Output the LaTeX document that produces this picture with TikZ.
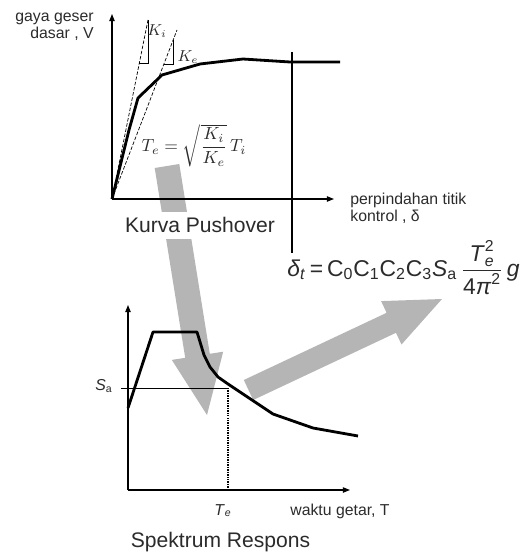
\documentclass[tikz,border=0pt]{standalone}
\usepackage{amsmath}
\usepackage{fontspec}
\setmainfont{Liberation Sans}
\usetikzlibrary{arrows.meta,positioning}
\definecolor{arrowfill}{HTML}{B5B5B5}
\definecolor{labeltext}{HTML}{2B2B2B}
\newcommand{\scr}[1]{\mbox{\fontsize{9}{9}\selectfont #1}}

\begin{document}
\begin{tikzpicture}[
  x=0.02cm, y=-0.02cm,
  every node/.style={inner sep=0pt, text=labeltext},
  axis/.style={line width=0.7pt, -{Triangle[length=4pt,width=3pt]}},
  guide/.style={line width=0.7pt},
  curve/.style={line width=1.6pt, line join=round},
  thinline/.style={line width=0.4pt},
  dashline/.style={line width=0.4pt, dash pattern=on 2pt off 1pt},
  dotline/.style={line width=0.9pt, dash pattern=on 0.8pt off 0.6pt},
  bigarrow/.style={fill=arrowfill, draw=none},
  small/.style={font=\fontsize{9}{9.6}\selectfont},
  title/.style={font=\fontsize{12}{14}\selectfont},
]
\useasboundingbox (0,0) rectangle (521,554);

% Gray arrows, behind everything
\fill[bigarrow] (154.7,168) -- (179.3,164) -- (209.8,353.8) -- (223.2,351.7)
  -- (207,415) -- (171.8,359.9) -- (185.2,357.8) -- cycle;
\fill[bigarrow] (243.8,380) -- (386.6,312.8) -- (381.1,301.1) -- (442,299)
  -- (401.5,344.5) -- (396,332.8) -- (253.2,400) -- cycle;

% Pushover graph
\coordinate (O1) at (112,199);
\coordinate (Vtop) at (112,14);
\coordinate (Dend) at (334,199);
\draw[axis] (O1) -- (Vtop);
\draw[axis] (O1) -- (Dend);

% Stiffness lines
\draw[dashline] (O1) -- (148,20);
\draw[thinline] (139.4,63) -- (148,63) -- (148,20);
\draw[dashline] (O1) -- (177,30);
\draw[thinline] (164,64) -- (173,64) -- (173,40.4);

% Pushover curve
\draw[curve] (O1) -- (129,130) -- (138,98) -- (162,75) -- (200,64)
  -- (243,59) -- (290,62) -- (340,62);

% Target displacement line
\coordinate (dtop) at (292,52);
\coordinate (dbot) at (292,253);
\draw[guide] (dtop) -- (dbot);

% Labels
\node (Vlabel) [small, align=right, anchor=east] at (94,27) {gaya geser\\dasar , V};
\node (Dlabel) [small, align=left, anchor=west] at (350,208) {perpindahan titik\\kontrol , δ};
\node (Ki) [font=\fontsize{9}{10}\selectfont] at (157,31) {$K_i$};
\node (Ke) [font=\fontsize{9}{10}\selectfont] at (188,57) {$K_e$};
\node (Teq) [font=\fontsize{10}{12}\selectfont] at (194,146)
  {$T_e=\sqrt{\dfrac{K_i}{K_e}}\,T_i$};
\node (kurva) [title, fill=white, anchor=base, text height=11.3pt, text depth=4pt]
  at (200,232) {Kurva Pushover};

% Target displacement formula
\node (deltaeq) [font=\fontsize{13}{15}\selectfont, anchor=base west] at (287,276)
  {\textit{δ}\textsubscript{\textit{t}}\,=\,C\textsubscript{0}C\textsubscript{1}C\textsubscript{2}C\textsubscript{3}\textit{S}\textsubscript{a}\,$\dfrac{\mbox{\textit{T}}^{\scr{2}}_{\scr{\itshape e}}}{\mbox{4\textit{π}}^{\scr{2}}}$\,\textit{g}};

% Response spectrum graph
\coordinate (O2) at (128,490);
\coordinate (Stop) at (128,305);
\coordinate (Tend) at (350,490);
\draw[axis] (O2) -- (Stop);
\draw[axis] (O2) -- (Tend);

\coordinate (Sa0) at (121,388);
\coordinate (SaT) at (228,388);
\coordinate (Tfoot) at (228,490);
\draw[thinline] (Sa0) -- (SaT);
\draw[dotline] (SaT) -- (Tfoot);

% Spectrum curve
\draw[curve] (128,408) -- (153,332) -- (197,332) -- (204,355) -- (210,367)
  -- (218,377) -- (228,384) -- (273,414) -- (313,428) -- (358,436);

\node (Sa) [font=\fontsize{9}{10}\selectfont] at (104,386) {\textit{S}\textsubscript{a}};
\node (Te) [font=\fontsize{9}{10}\selectfont, anchor=base] at (223,515) {\textit{T}\textsubscript{\textit{e}}};
\node (Tlabel) [small, anchor=base west] at (290,515) {waktu getar, T};
\node (spektrum) [title, anchor=base] at (220.5,547) {Spektrum Respons};

\end{tikzpicture}
\end{document}
